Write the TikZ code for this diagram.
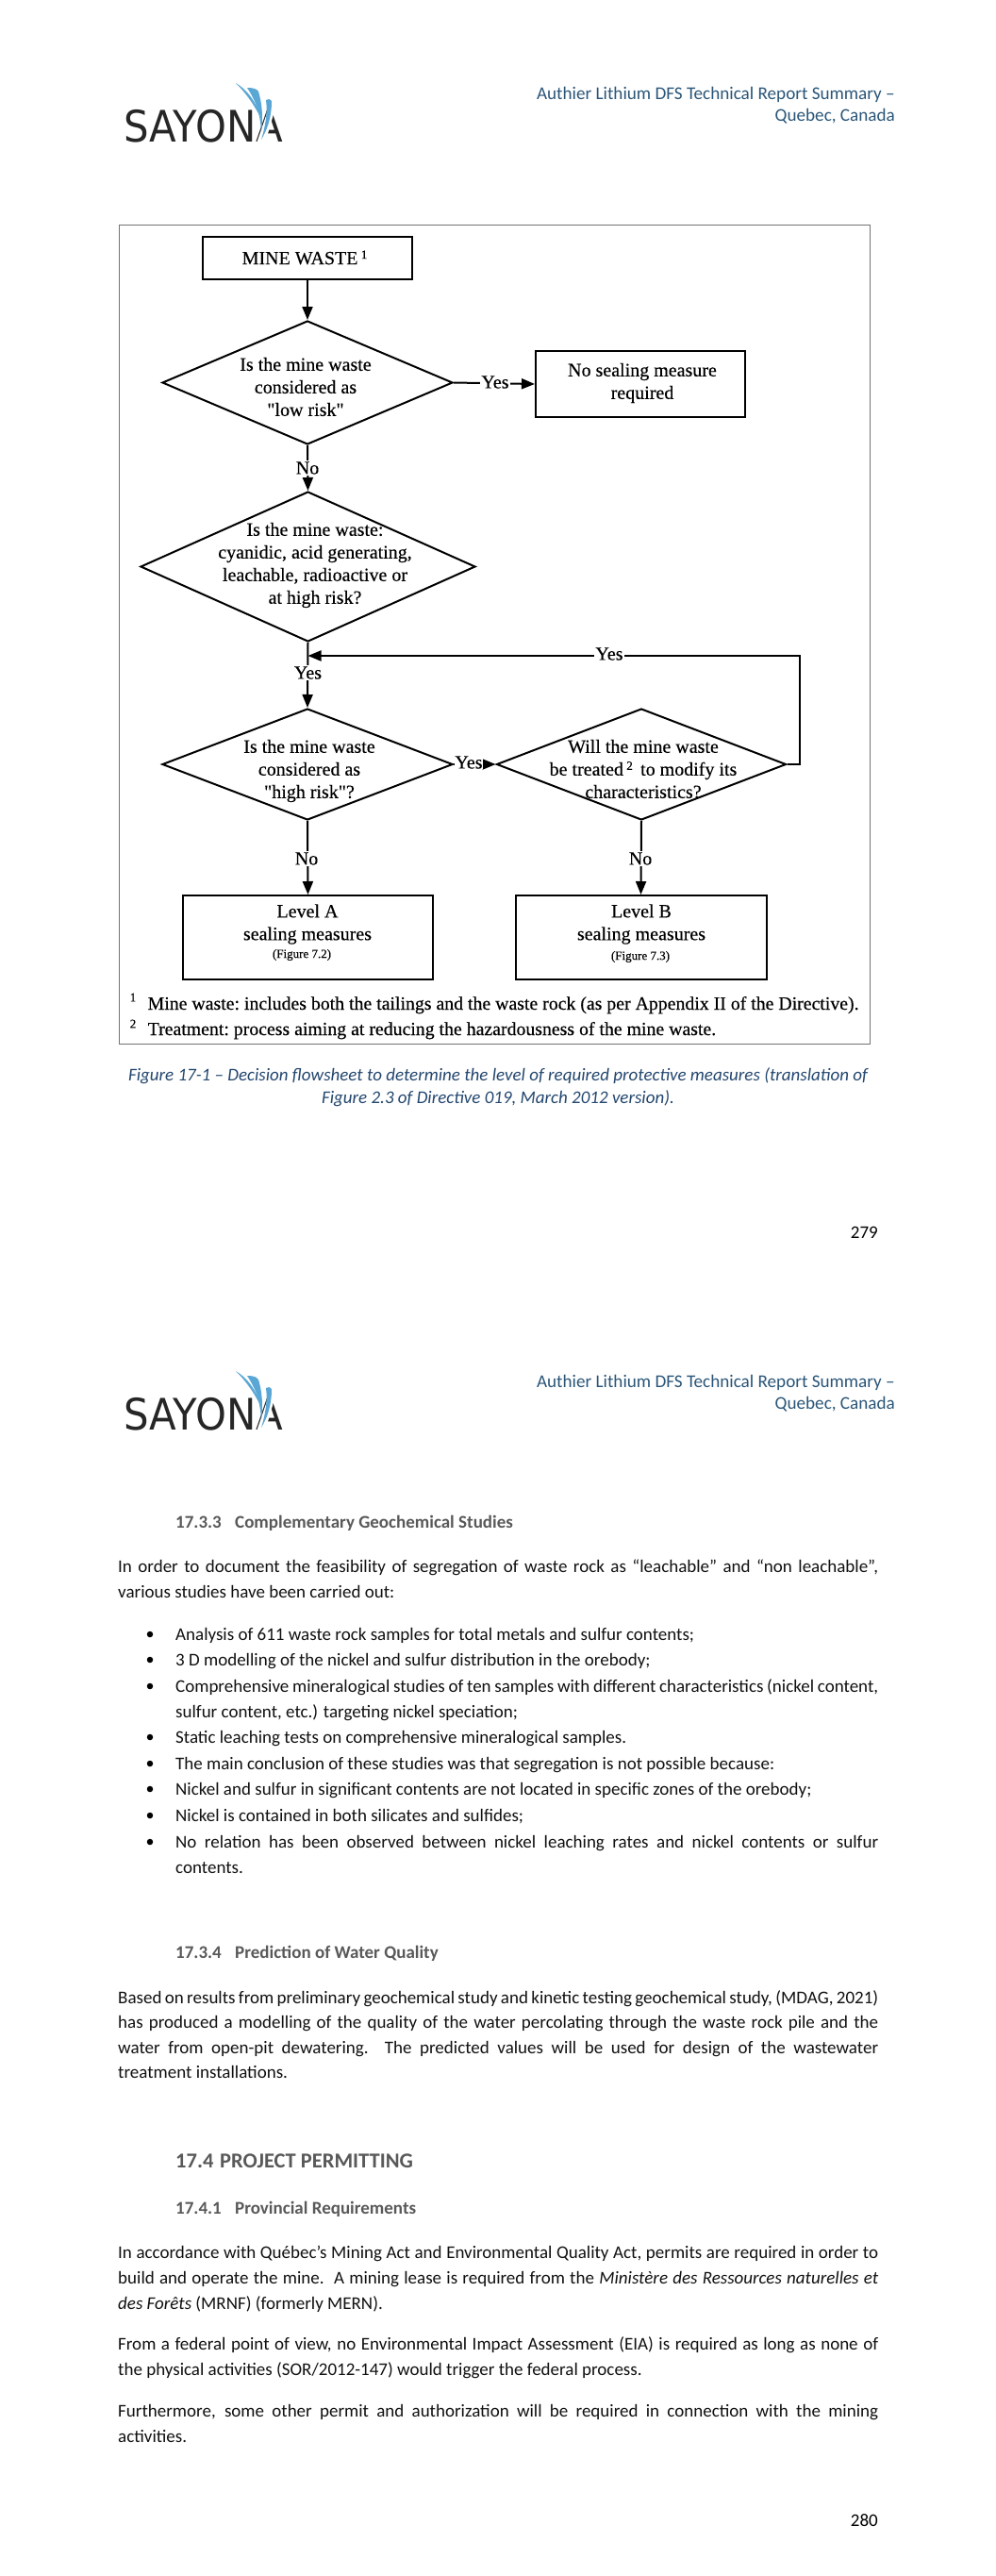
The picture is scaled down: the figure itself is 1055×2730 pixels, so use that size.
\documentclass[tikz,border=0pt]{standalone}
\usepackage{fontspec}
\usetikzlibrary{shapes.geometric,arrows.meta,calc}
\setmainfont{Carlito}
\newfontfamily\flowfont[FakeBold=0.35]{Liberation Serif}
\newfontfamily\logofont{DejaVu Sans}
\definecolor{headblue}{HTML}{2A5578}
\definecolor{capblue}{HTML}{24476F}
\definecolor{headgrey}{HTML}{595959}
\definecolor{bodyk}{HTML}{111111}
\definecolor{swoosh}{HTML}{5AA7D6}
\definecolor{logok}{HTML}{262626}
\newcommand{\J}[1]{\makebox[806pt][s]{#1}}
\newcommand{\JB}[1]{\makebox[745pt][s]{#1}}
\newcommand{\supn}[1]{\raisebox{6pt}{\fontsize{13}{13}\selectfont #1}}
\tikzset{
  bodytxt/.style={anchor=base west,inner sep=0pt,yshift=-6pt,text=bodyk,font=\fontsize{19}{23}\selectfont},
  headtxt/.style={anchor=base east,inner sep=0pt,yshift=-6pt,text=headblue,font=\fontsize{19.15}{23}\selectfont},
  pageno/.style={anchor=base east,inner sep=0pt,yshift=-6pt,text=black,font=\fontsize{19}{23}\selectfont},
  subh/.style={anchor=base west,inner sep=0pt,yshift=-6pt,text=headgrey,font=\bfseries\fontsize{19}{23}\selectfont},
  sech/.style={anchor=base west,inner sep=0pt,yshift=-7pt,text=headgrey,font=\bfseries\fontsize{22.5}{26}\selectfont},
  captxt/.style={anchor=center,inner sep=0pt,text=capblue,font=\itshape\fontsize{19}{23}\selectfont},
  bull/.style={circle,fill=black,inner sep=0pt,minimum size=6.5pt},
  flowbox/.style={draw=black,line width=2pt,rectangle,inner sep=0pt,fill=white},
  decbox/.style={draw=black,line width=2pt,diamond,inner sep=0pt,aspect=1},
  ftext/.style={inner sep=0pt,align=center,text=black,font=\flowfont\frenchspacing\fontsize{20}{24}\selectfont},
  figref/.style={inner sep=0pt,text=black,font=\flowfont\fontsize{13}{15}\selectfont},
  lab/.style={inner sep=1pt,fill=white,text=black,font=\flowfont\fontsize{20}{24}\selectfont},
  foottxt/.style={anchor=base west,inner sep=0pt,yshift=-6pt,text=black,font=\flowfont\frenchspacing\fontsize{19.8}{24}\selectfont},
  fsup/.style={inner sep=0pt,text=black,font=\flowfont\fontsize{13}{15}\selectfont},
  arr/.style={draw=black,line width=2pt,-{Triangle[length=14pt,width=11pt]}},
  logo/.pic={
    \node[anchor=base west,inner sep=0pt,text=logok,font=\logofont\fontsize{46}{46}\selectfont] (-txt) at (131,150) {\scalebox{.91}[1]{SAYONA}};
    \fill[white] (272,152) -- (285,114) -- (292,114) -- (281,152) -- cycle;
    \fill[swoosh] (250,88) .. controls (262,95) and (272,108) .. (278,128) .. controls (270,112) and (262,100) .. cycle;
    \fill[swoosh] (262,93) .. controls (268,93) and (272,94) .. (274,97) .. controls (278,110) and (279,125) .. (277,140) .. controls (276,122) and (272,108) .. cycle;
    \fill[swoosh] (282,106) .. controls (284,104) and (287,105) .. (288,107) .. controls (288,125) and (283,138) .. (277,148) .. controls (281,135) and (284,120) .. cycle;
  }
}
\begin{document}
\begin{tikzpicture}[x=1pt,y=-1pt]
\useasboundingbox (0,0) rectangle (1055,2730);
\fill[white] (0,0) rectangle (1055,2730);

% page 279
\pic (logoa) at (0,0) {logo};
\node[headtxt] (h1a) at (949,99) {Authier Lithium DFS Technical Report Summary –};
\node[headtxt] (h1b) at (949,122) {Quebec, Canada};
\node[draw=black!55,line width=1pt,rectangle,minimum width=796pt,minimum height=868pt,inner sep=0pt] (frame) at (524,672) {};

\node[flowbox,minimum width=222pt,minimum height=45pt] (mw) at (326,273.5) {};
\node[ftext] (mwt) at (323,273) {MINE WASTE\,\supn{1}};
\node[decbox,minimum width=308pt,minimum height=131pt] (d1) at (326,405.5) {};
\node[ftext] (d1t) at (324,410) {Is the mine waste\\considered as\\"low risk"};
\node[flowbox,minimum width=222pt,minimum height=70pt] (ns) at (679,407) {};
\node[ftext] (nst) at (681,406) {No sealing measure\\required};
\node[decbox,minimum width=355pt,minimum height=159pt] (d2) at (326.5,600.5) {};
\node[ftext] (d2t) at (334,599) {Is the mine waste:\\cyanidic, acid generating,\\leachable, radioactive or\\at high risk?};
\node[decbox,minimum width=308pt,minimum height=118pt] (d3) at (326,810) {};
\node[ftext] (d3t) at (328,817) {Is the mine waste\\considered as\\"high risk"?};
\node[decbox,minimum width=307pt,minimum height=118pt] (d4) at (680,810) {};
\node[ftext] (d4t) at (682,815) {Will the mine waste\\be treated\,\supn{2}\ \,to modify its\\characteristics?};
\node[flowbox,minimum width=265pt,minimum height=89pt] (la) at (326.5,993.5) {};
\node[ftext] (lat) at (326,979.5) {Level A\\sealing measures};
\node[figref] (laf) at (320,1012) {(Figure 7.2)};
\node[flowbox,minimum width=266pt,minimum height=89pt] (lb) at (679.5,993.5) {};
\node[ftext] (lbt) at (680,979.5) {Level B\\sealing measures};
\node[figref] (lbf) at (679,1014) {(Figure 7.3)};

\coordinate (loopr) at (848,695);
\coordinate (join) at (d2.south |- loopr);
\draw[arr] (mw.south) -- (d1.north);
\draw[arr] (d1.east) -- (ns.west);
\draw[arr] (d1.south) -- (d2.north);
\draw[arr] (d2.south) -- (d3.north);
\draw[arr] (d3.east) -- (d4.west);
\draw[arr] (d3.south) -- (la.north);
\draw[arr] (d4.south) -- (lb.north);
\draw[arr] (d4.east) -| (loopr) -- (join);
\node[lab] (y1) at (525,405) {Yes};
\node[lab] (n1) at (326,496) {No};
\node[lab] (y2) at (646,693) {Yes};
\node[lab] (y3) at (326.5,713) {Yes};
\node[lab,inner sep=0pt] (y4) at (497,808) {Yes};
\node[lab] (n2) at (325,910) {No};
\node[lab] (n3) at (679,910) {No};

\node[fsup] (f1s) at (141,1057) {1};
\node[foottxt] (f1) at (156.5,1064) {Mine waste: includes both the tailings and the waste rock (as per Appendix II of the Directive).};
\node[fsup] (f2s) at (141,1085) {2};
\node[foottxt] (f2) at (156.5,1091) {Treatment: process aiming at reducing the hazardousness of the mine waste.};

\node[captxt] (c1) at (528,1140) {Figure 17-1 – Decision flowsheet to determine the level of required protective measures (translation of};
\node[captxt] (c2) at (528,1164) {Figure 2.3 of Directive 019, March 2012 version).};
\node[pageno] (p1) at (931,1306) {279};

% page 280
\pic (logob) at (0,1365) {logo};
\node[headtxt] (h2a) at (949,1464) {Authier Lithium DFS Technical Report Summary –};
\node[headtxt] (h2b) at (949,1487) {Quebec, Canada};

\node[subh] (s1) at (186,1613) {17.3.3};
\node[subh] (s1b) at (249,1613) {Complementary Geochemical Studies};
\node[bodytxt] (t1) at (125,1660) {\J{In order to document the feasibility of segregation of waste rock as “leachable” and “non leachable”,}};
\node[bodytxt] (t2) at (125,1687) {various studies have been carried out:};

\node[bull] (b1) at (159,1732) {};
\node[bodytxt] (l1) at (186,1732) {Analysis of 611 waste rock samples for total metals and sulfur contents;};
\node[bull] (b2) at (159,1759) {};
\node[bodytxt] (l2) at (186,1759) {3 D modelling of the nickel and sulfur distribution in the orebody;};
\node[bull] (b3) at (159,1787) {};
\node[bodytxt] (l3) at (186,1787) {\JB{Comprehensive mineralogical studies of ten samples with different characteristics (nickel content,}};
\node[bodytxt] (l3b) at (186,1814) {sulfur content, etc.) targeting nickel speciation;};
\node[bull] (b4) at (159,1841) {};
\node[bodytxt] (l4) at (186,1841) {Static leaching tests on comprehensive mineralogical samples.};
\node[bull] (b5) at (159,1869) {};
\node[bodytxt] (l5) at (186,1869) {The main conclusion of these studies was that segregation is not possible because:};
\node[bull] (b6) at (159,1896) {};
\node[bodytxt] (l6) at (186,1896) {Nickel and sulfur in significant contents are not located in specific zones of the orebody;};
\node[bull] (b7) at (159,1924) {};
\node[bodytxt] (l7) at (186,1924) {Nickel is contained in both silicates and sulfides;};
\node[bull] (b8) at (159,1952) {};
\node[bodytxt] (l8) at (186,1952) {\JB{No relation has been observed between nickel leaching rates and nickel contents or sulfur}};
\node[bodytxt] (l8b) at (186,1979) {contents.};

\node[subh] (s2) at (186,2069.5) {17.3.4};
\node[subh] (s2b) at (249,2069.5) {Prediction of Water Quality};
\node[bodytxt] (u1) at (125,2117) {\J{Based on results from preliminary geochemical study and kinetic testing geochemical study, (MDAG, 2021)}};
\node[bodytxt] (u2) at (125,2143.5) {\J{has produced a modelling of the quality of the water percolating through the waste rock pile and the}};
\node[bodytxt] (u3) at (125,2170) {\J{water from open-pit dewatering.\ \ The predicted values will be used for design of the wastewater}};
\node[bodytxt] (u4) at (125,2196.5) {treatment installations.};

\node[sech] (s3) at (186,2290) {17.4};
\node[sech] (s3b) at (233,2290) {PROJECT PERMITTING};
\node[subh] (s4) at (186,2340) {17.4.1};
\node[subh] (s4b) at (249,2340) {Provincial Requirements};

\node[bodytxt] (v1) at (125,2387) {\J{In accordance with Québec’s Mining Act and Environmental Quality Act, permits are required in order to}};
\node[bodytxt] (v2) at (125,2414) {\J{build and operate the mine.\ \ A mining lease is required from the \textit{Ministère des Ressources naturelles et}}};
\node[bodytxt] (v3) at (125,2441) {\textit{des Forêts} (MRNF) (formerly MERN).};
\node[bodytxt] (w1) at (125,2484.5) {\J{From a federal point of view, no Environmental Impact Assessment (EIA) is required as long as none of}};
\node[bodytxt] (w2) at (125,2511) {the physical activities (SOR/2012-147) would trigger the federal process.};
\node[bodytxt] (x1) at (125,2555) {\J{Furthermore, some other permit and authorization will be required in connection with the mining}};
\node[bodytxt] (x2) at (125,2582) {activities.};
\node[pageno] (p2) at (931,2671) {280};
\end{tikzpicture}
\end{document}
